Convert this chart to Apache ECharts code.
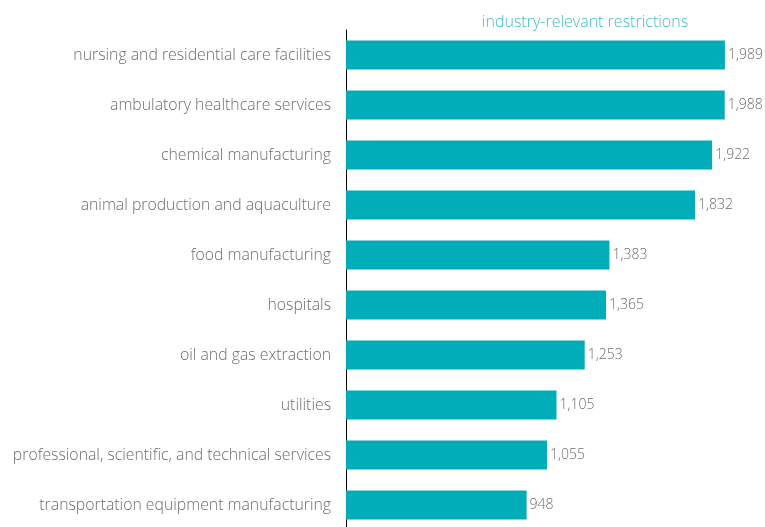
<!DOCTYPE html>
<html><head><meta charset="utf-8">
<script src="https://cdn.jsdelivr.net/npm/echarts@6/dist/echarts.min.js"></script>
<style>html,body{margin:0;padding:0;background:#fff;overflow:hidden;width:765px;height:527px}#c{width:765px;height:540px}</style>
</head><body><div id="c"></div>
<script>
const categories = [
  "nursing and residential care facilities",
  "ambulatory healthcare services",
  "chemical manufacturing",
  "animal production and aquaculture",
  "food manufacturing",
  "hospitals",
  "oil and gas extraction",
  "utilities",
  "professional, scientific, and technical services",
  "transportation equipment manufacturing"
];
const values = [1989, 1988, 1922, 1832, 1383, 1365, 1253, 1105, 1055, 948];
const seriesName = "industry-relevant restrictions";

const chart = echarts.init(document.getElementById('c'), null, {renderer: 'canvas'});
chart.setOption({
  animation: false,
  title: {
    text: seriesName, left: 580, top: 9, textAlign: 'center',
    textStyle: {color: '#3dbfca', fontSize: 16, fontWeight: 300, fontFamily: 'Open Sans'}
  },
  grid: {left: 346, width: 381, top: 30, height: 500, containLabel: false},
  xAxis: {type: 'value', min: 0, max: 2000, show: false},
  yAxis: {
    type: 'category', data: categories, inverse: true,
    axisLine: {show: true, lineStyle: {color: '#000', width: 1}},
    axisTick: {show: false},
    axisLabel: {color: '#6e6e6e', fontSize: 15.8, fontWeight: 300, fontFamily: 'Open Sans', margin: 15}
  },
  series: [{
    type: 'bar', name: seriesName, data: values, barWidth: 29,
    itemStyle: {color: '#00adb9'},
    label: {
      show: true, position: 'right', distance: 3, color: '#6e6e6e', fontSize: 14, fontWeight: 300, fontFamily: 'Open Sans',
      formatter: p => p.value.toLocaleString('en-US')
    }
  }]
});
</script></body></html>
